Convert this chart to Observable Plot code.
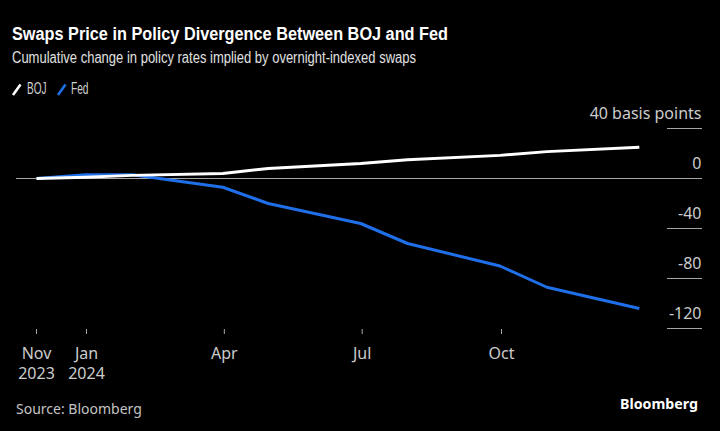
<!DOCTYPE html>
<html><head><meta charset="utf-8">
<script src="https://cdn.jsdelivr.net/npm/d3@7"></script>
<script src="https://cdn.jsdelivr.net/npm/@observablehq/plot@0.6"></script>
<style>
html,body{margin:0;padding:0;background:#000;}
#wrap{position:relative;width:720px;height:431px;background:#000;overflow:hidden;}
.t{position:absolute;white-space:nowrap;margin:0;transform-origin:0 50%;}
#title{left:12px;top:24px;font:bold 17.5px/20px "Liberation Sans",sans-serif;color:#fff;}
#subtitle{left:12px;top:49px;font:16px/18px "Liberation Sans",sans-serif;color:#e0e0e0;}
.leg{top:79.5px;font:16px/18px "Liberation Sans",sans-serif;color:#d0d0d0;}
.sw{position:absolute;top:82px;}
#source{left:16px;top:399px;font:14px/19px "Noto Sans",sans-serif;color:#c4c4c4;}
#logo{left:620px;top:394px;font:bold 14.5px/19px "Noto Sans",sans-serif;color:#fff;}
#chart{position:absolute;left:0;top:100px;}
</style>
</head><body>
<div id="wrap">
  <div id="title" class="t" data-w="436">Swaps Price in Policy Divergence Between BOJ and Fed</div>
  <div id="subtitle" class="t" data-w="404">Cumulative change in policy rates implied by overnight-indexed swaps</div>
  <div id="legend"></div>
  <div id="chart"></div>
  <div id="source" class="t">Source: Bloomberg</div>
  <div id="logo" class="t" data-w="78">Bloomberg</div>
</div>
<script>
// ---- data ----
const dates = ["2023-11-01","2023-12-31","2024-01-31","2024-03-31","2024-04-30","2024-06-30","2024-07-31","2024-09-30","2024-10-31","2024-12-31"];
const bojValues = [0, 1, 2.5, 4, 8, 12, 15, 18.5, 21.5, 25];
const fedValues = [0, 3, 3, -7, -20, -36, -52, -70, -87, -104];
const seriesNames = ["BOJ", "Fed"];
const seriesColors = ["#ffffff", "#1f6fe8"];
const xTicks = ["2023-11-01","2024-01-01","2024-04-01","2024-07-01","2024-10-01"];
const xTickLabels = ["Nov\n2023","Jan\n2024","Apr","Jul","Oct"];
const yTicks = [40, 0, -40, -80, -120];
const yTickLabels = ["40 basis points","0","-40","-80","-120"];

const valuesBySeries = {BOJ: bojValues, Fed: fedValues};
const rows = seriesNames.flatMap(name => dates.map((d, i) => ({series: name, date: new Date(d), value: valuesBySeries[name][i]})));
const xTickDates = xTicks.map(d => new Date(d));

// legend
const legend = document.getElementById("legend");
const legPos = [{sw: 11, tx: 27, w: 19.5}, {sw: 56, tx: 71, w: 17.5}];
seriesNames.forEach((name, i) => {
  const sw = document.createElement("div");
  sw.className = "sw";
  sw.style.left = legPos[i].sw + "px";
  sw.innerHTML = `<svg width="12" height="13"><line x1="2" y1="12" x2="9.5" y2="1.5" stroke="${seriesColors[i]}" stroke-width="2.6"/></svg>`;
  legend.appendChild(sw);
  const tx = document.createElement("div");
  tx.className = "t leg";
  tx.style.left = legPos[i].tx + "px";
  tx.dataset.w = legPos[i].w;
  tx.textContent = name;
  legend.appendChild(tx);
});

// squeeze text to the reference's narrower type
document.querySelectorAll("[data-w]").forEach(el => {
  const w = el.getBoundingClientRect().width;
  el.style.transform = `scaleX(${(+el.dataset.w / w).toFixed(4)})`;
});

const yRest = yTicks.filter(d => d !== 0);
const chart = Plot.plot({
  width: 720,
  height: 290,
  marginLeft: 16,
  marginRight: 53,
  marginTop: 0,
  marginBottom: 61,
  style: {background: "transparent", color: "#cccccc", fontFamily: "'Noto Sans', sans-serif", fontSize: "16px"},
  x: {type: "utc", domain: [new Date("2023-11-01"), new Date("2024-01-01"), new Date("2024-10-01")], range: [36, 86, 501], label: null},
  y: {domain: [-120, 40], range: [228, 28], label: null},
  marks: [
    Plot.ruleY([0], {stroke: "#a6a6a6", strokeWidth: 1, insetRight: -35}),
    Plot.ruleY(yRest, {stroke: "#a6a6a6", strokeWidth: 1, insetLeft: 651, insetRight: -35}),
    Plot.axisY(yTicks, {anchor: "right", tickSize: 0, tickPadding: 0, dx: 34, dy: -15, textAnchor: "end", fill: "#cccccc",
      tickFormat: d => yTickLabels[yTicks.indexOf(d)], label: null}),
    Plot.axisX(xTickDates, {anchor: "bottom", tickSize: 5, tickPadding: 10, stroke: "#a6a6a6", strokeOpacity: 1, fill: "#cccccc", lineHeight: 1.25,
      tickFormat: d => xTickLabels[xTickDates.findIndex(t => +t === +d)], label: null}),
    ...seriesNames.slice().reverse().map(name =>
      Plot.line(rows.filter(r => r.series === name), {x: "date", y: "value", stroke: seriesColors[seriesNames.indexOf(name)], strokeWidth: 3, strokeLinejoin: "round", strokeLinecap: "butt"}))
  ]
});
document.getElementById("chart").appendChild(chart);
</script>
</body></html>
